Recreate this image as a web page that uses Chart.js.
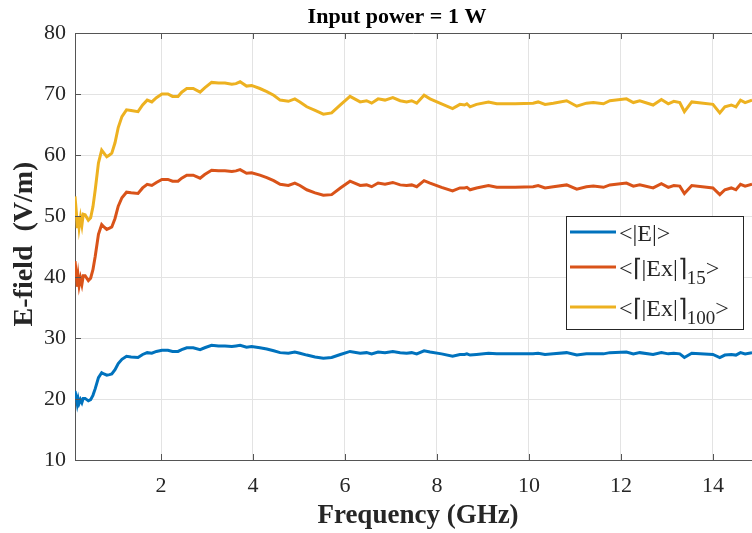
<!DOCTYPE html>
<html>
<head>
<meta charset="utf-8">
<script src="https://cdn.jsdelivr.net/npm/chart.js@4.4.0/dist/chart.umd.min.js"></script>
<style>
  html, body { margin: 0; padding: 0; background: #fff; }
  #wrap { width: 752px; height: 533px; }
</style>
</head>
<body>
<div id="wrap"><canvas id="grafico" width="752" height="533"></canvas></div>
<script>
// --- dados ---
const freq = [
  0.13, 0.16, 0.18, 0.2, 0.22, 0.25, 0.28, 0.31, 0.35, 0.42,
  0.47, 0.52, 0.57, 0.64, 0.71, 0.76, 0.82, 0.88, 0.93, 1.0,
  1.07, 1.15, 1.25, 1.35, 1.5, 1.6, 1.7, 1.8, 1.9, 2.02,
  2.15, 2.25, 2.37, 2.45, 2.56, 2.7, 2.85, 2.95, 3.1, 3.25,
  3.39, 3.54, 3.63, 3.72, 3.86, 3.97, 4.15, 4.3, 4.45, 4.59,
  4.77, 4.91, 5.02, 5.17, 5.35, 5.53, 5.71, 5.9, 6.11, 6.33,
  6.47, 6.58, 6.72, 6.87, 7.04, 7.2, 7.34, 7.45, 7.56, 7.72,
  7.85, 8.1, 8.34, 8.5, 8.6, 8.65, 8.72, 8.86, 9.12, 9.3,
  9.7, 10.09, 10.2, 10.35, 10.53, 10.82, 11.04, 11.25, 11.4, 11.62,
  11.76, 12.12, 12.27, 12.41, 12.7, 12.88, 13.03, 13.15, 13.28, 13.38,
  13.54, 14.0, 14.15, 14.26, 14.4, 14.5, 14.6, 14.7, 14.85
];

const eMedia = [
  21.3, 20.2, 19.2, 20.0, 19.3, 19.9, 19.4, 20.1, 20.1, 19.7,
  19.9, 20.6, 21.7, 23.5, 24.3, 24.1, 23.9, 24.0, 24.1, 24.8,
  25.8, 26.5, 27.0, 26.9, 26.8, 27.3, 27.6, 27.5, 27.8, 28.0,
  28.0, 27.8, 27.8, 28.1, 28.4, 28.4, 28.1, 28.4, 28.8, 28.7,
  28.7, 28.6, 28.7, 28.8, 28.5, 28.6, 28.4, 28.2, 27.9, 27.6,
  27.5, 27.7, 27.5, 27.2, 26.9, 26.7, 26.8, 27.3, 27.8, 27.5,
  27.6, 27.4, 27.7, 27.6, 27.8, 27.6, 27.5, 27.6, 27.4, 27.9,
  27.7, 27.4, 27.0, 27.3, 27.3, 27.4, 27.2, 27.3, 27.5, 27.4,
  27.4, 27.4, 27.5, 27.3, 27.4, 27.6, 27.2, 27.4, 27.4, 27.4,
  27.6, 27.7, 27.4, 27.6, 27.3, 27.6, 27.4, 27.5, 27.4, 26.8,
  27.5, 27.3, 26.8, 27.2, 27.3, 27.2, 27.6, 27.4, 27.6
];

const ex15 = [
  42.6, 40.4, 38.4, 40.0, 38.6, 39.8, 38.8, 40.2, 40.2, 39.4,
  39.8, 41.2, 43.4, 47.0, 48.6, 48.2, 47.8, 48.0, 48.2, 49.6,
  51.6, 53.0, 53.9, 53.8, 53.7, 54.6, 55.2, 55.0, 55.5, 56.0,
  56.0, 55.7, 55.7, 56.2, 56.7, 56.7, 56.2, 56.8, 57.5, 57.4,
  57.4, 57.3, 57.4, 57.6, 57.0, 57.1, 56.7, 56.3, 55.8, 55.2,
  55.0, 55.4, 55.0, 54.3, 53.8, 53.4, 53.5, 54.6, 55.7, 55.0,
  55.1, 54.8, 55.4, 55.2, 55.5, 55.1, 55.0, 55.1, 54.8, 55.8,
  55.4, 54.7, 54.1, 54.6, 54.6, 54.7, 54.3, 54.6, 55.0, 54.7,
  54.7, 54.8, 55.0, 54.6, 54.8, 55.1, 54.4, 54.8, 54.9, 54.7,
  55.1, 55.4, 54.9, 55.1, 54.6, 55.3, 54.7, 55.0, 54.9, 53.7,
  55.0, 54.6, 53.5, 54.3, 54.6, 54.3, 55.2, 54.9, 55.2
];

const ex100 = [
  53.2, 50.5, 48.0, 50.0, 48.2, 49.8, 48.5, 50.3, 50.2, 49.3,
  49.7, 51.5, 54.3, 58.7, 60.8, 60.3, 59.7, 60.0, 60.3, 62.0,
  64.5, 66.3, 67.4, 67.3, 67.1, 68.2, 69.0, 68.7, 69.4, 70.0,
  70.0, 69.6, 69.6, 70.3, 70.9, 70.9, 70.3, 71.0, 71.9, 71.8,
  71.8, 71.6, 71.7, 72.0, 71.3, 71.4, 70.9, 70.4, 69.8, 69.0,
  68.8, 69.2, 68.7, 67.9, 67.3, 66.7, 66.9, 68.2, 69.6, 68.7,
  68.9, 68.5, 69.2, 69.0, 69.4, 68.9, 68.7, 68.9, 68.5, 69.8,
  69.2, 68.4, 67.6, 68.3, 68.2, 68.4, 67.9, 68.3, 68.7, 68.4,
  68.4, 68.5, 68.7, 68.3, 68.5, 68.9, 68.0, 68.5, 68.6, 68.4,
  68.9, 69.2, 68.6, 68.9, 68.2, 69.1, 68.4, 68.8, 68.6, 67.1,
  68.7, 68.3, 66.9, 67.9, 68.2, 67.9, 69.0, 68.6, 69.0
];

const xTicks = [2, 4, 6, 8, 10, 12, 14];
const yTicks = [10, 20, 30, 40, 50, 60, 70, 80];

const cores = ['#0072BD', '#D95319', '#EDB120'];
const serif = '"Liberation Serif", "Times New Roman", serif';

function pontos(vals) {
  return freq.map((f, i) => ({ x: f, y: vals[i] }));
}

// --- textos, legenda e marcas internas desenhados à mão ---
const extras = {
  id: 'extras',
  afterDraw(chart) {
    const c = chart.ctx;
    const a = chart.chartArea;
    const sx = chart.scales.x, sy = chart.scales.y;
    c.save();

    // borda de cima + ticks para dentro
    c.strokeStyle = '#555';
    c.lineWidth = 1;
    c.beginPath();
    c.moveTo(a.left, a.top + 0.5);
    c.lineTo(a.right, a.top + 0.5);
    xTicks.forEach(v => {
      const px = Math.round(sx.getPixelForValue(v)) + 0.5;
      c.moveTo(px, a.bottom); c.lineTo(px, a.bottom - 6);
      c.moveTo(px, a.top); c.lineTo(px, a.top + 6);
    });
    yTicks.forEach(v => {
      const py = Math.round(sy.getPixelForValue(v)) + 0.5;
      c.moveTo(a.left, py); c.lineTo(a.left + 6, py);
    });
    c.stroke();

    // título
    c.fillStyle = '#000';
    c.font = 'bold 22px ' + serif;
    c.textAlign = 'center';
    c.textBaseline = 'alphabetic';
    c.fillText('Input power = 1 W', 397, 23);

    // título eixo x
    c.fillStyle = '#262626';
    c.font = 'bold 27px ' + serif;
    c.fillText('Frequency (GHz)', 418, 523);

    // título eixo y
    c.save();
    c.translate(32, 244);
    c.rotate(-Math.PI / 2);
    c.font = 'bold 28px ' + serif;
    c.fillText('E-field  (V/m)', 0, 0);
    c.restore();

    // legenda
    const bx = 566, by = 216, bw = 177, bh = 113;
    c.fillStyle = '#fff';
    c.fillRect(bx, by, bw, bh);
    c.strokeStyle = '#262626';
    c.lineWidth = 1;
    c.strokeRect(bx + 0.5, by + 0.5, bw, bh);

    const linhas = [
      { y: 232, txt: '<|E|>', sub: '' },
      { y: 267, txt: '<\u2308|Ex|\u2309', sub: '15' },
      { y: 307, txt: '<\u2308|Ex|\u2309', sub: '100' }
    ];
    linhas.forEach((l, i) => {
      c.strokeStyle = cores[i];
      c.lineWidth = 3;
      c.beginPath();
      c.moveTo(570, l.y); c.lineTo(616, l.y);
      c.stroke();
      c.fillStyle = '#262626';
      c.textAlign = 'left';
      c.textBaseline = 'alphabetic';
      c.font = '24px ' + serif;
      let x = 619;
      c.fillText(l.txt, x, l.y + 9);
      x += c.measureText(l.txt).width;
      if (l.sub) {
        c.font = '19px ' + serif;
        c.fillText(l.sub, x, l.y + 17);
        x += c.measureText(l.sub).width;
        c.font = '24px ' + serif;
        c.fillText('>', x, l.y + 9);
      }
    });
    c.restore();
  }
};

const ctx = document.getElementById('grafico').getContext('2d');
new Chart(ctx, {
  type: 'line',
  data: {
    datasets: [
      { label: '<|E|>', data: pontos(eMedia), borderColor: cores[0] },
      { label: '<|Ex|>15', data: pontos(ex15), borderColor: cores[1] },
      { label: '<|Ex|>100', data: pontos(ex100), borderColor: cores[2] }
    ]
  },
  options: {
    responsive: false,
    animation: false,
    layout: { padding: { top: 33, left: 0, right: 0, bottom: 0 } },
    elements: {
      point: { radius: 0 },
      line: { borderWidth: 3, tension: 0, fill: false }
    },
    plugins: {
      legend: { display: false },
      title: { display: false },
      tooltip: { enabled: false }
    },
    scales: {
      x: {
        type: 'linear',
        min: 0.13,
        max: 14.85,
        afterBuildTicks: s => { s.ticks = xTicks.map(v => ({ value: v })); },
        afterFit: s => { s.height = 73; },
        grid: { color: '#e3e3e3', lineWidth: 1, drawTicks: false },
        border: { color: '#555', width: 1 },
        ticks: {
          padding: 13,
          color: '#262626',
          font: { family: serif, size: 22 },
          maxRotation: 0
        }
      },
      y: {
        min: 10,
        max: 80,
        afterBuildTicks: s => { s.ticks = yTicks.map(v => ({ value: v })); },
        afterFit: s => { s.width = 75; },
        grid: { color: '#e3e3e3', lineWidth: 1, drawTicks: false },
        border: { color: '#555', width: 1 },
        ticks: {
          padding: 9,
          color: '#262626',
          font: { family: serif, size: 22 }
        }
      }
    }
  },
  plugins: [extras]
});
</script>
</body>
</html>
